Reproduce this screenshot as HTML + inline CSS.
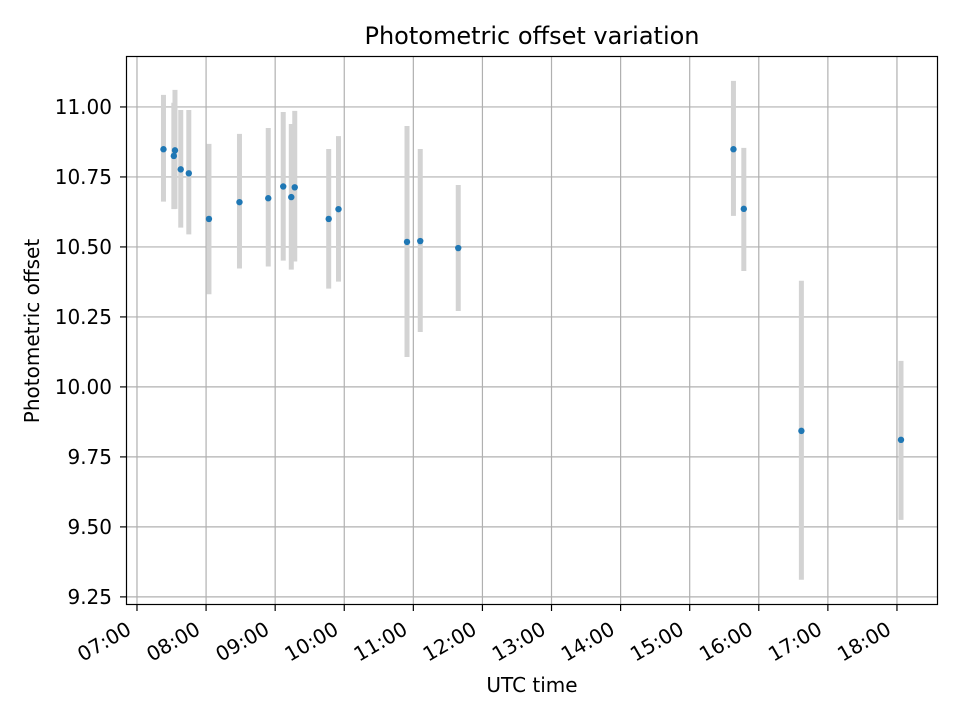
<!DOCTYPE html>
<html><head><meta charset="utf-8"><style>body{margin:0;background:#fff}svg text{font-family:"DejaVu Sans","Liberation Sans",sans-serif;fill:#000}</style></head>
<body>
<svg id="chart" width="960" height="720" xmlns="http://www.w3.org/2000/svg">
<g id="grid"></g>
<g id="bars"></g>
<g id="pts"></g>
<rect x="126.5" y="56.5" width="811" height="548" fill="none" stroke="#000" stroke-width="1.2"/>
<g id="xt"></g>
<g id="yt"></g>
<text x="532" y="44" font-size="24" text-anchor="middle">Photometric offset variation</text>
<text x="532" y="692" font-size="20" text-anchor="middle">UTC time</text>
<text transform="translate(39,331) rotate(-90)" font-size="20" text-anchor="middle">Photometric offset</text>
</svg>
<script>
const times=["07:23","07:33","07:32","07:38","07:45","08:02.5","08:29","08:54","09:07","09:14","09:17","09:46.5","09:55","10:54.5","11:06","11:39","15:38","15:47","16:37","18:03.5"];
const values=[10.849,10.845,10.825,10.777,10.763,10.60,10.660,10.674,10.716,10.678,10.713,10.60,10.635,10.518,10.521,10.496,10.849,10.636,9.843,9.811];
const upper=[11.043,11.061,11.015,10.989,10.989,10.868,10.904,10.925,10.982,10.939,10.986,10.850,10.896,10.932,10.850,10.721,11.093,10.854,10.379,10.093];
const lower=[10.662,10.636,10.635,10.569,10.545,10.331,10.423,10.430,10.451,10.419,10.448,10.351,10.376,10.107,10.196,10.271,10.611,10.414,9.311,9.525];
const xTicks=["07:00","08:00","09:00","10:00","11:00","12:00","13:00","14:00","15:00","16:00","17:00","18:00"];
const yTicks=[9.25,9.5,9.75,10.0,10.25,10.5,10.75,11.0];
const NS="http://www.w3.org/2000/svg";
function hrs(t){const p=t.split(":");return +p[0]+ +p[1]/60;}
const x0=6.841,x1=18.594,y0=9.221,y1=11.182;
function X(h){return 126+(h-x0)/(x1-x0)*812;}
function Y(v){return 605-(v-y0)/(y1-y0)*549;}
function mk(tag,attrs,parent){const e=document.createElementNS(NS,tag);for(const k in attrs)e.setAttribute(k,attrs[k]);document.getElementById(parent).appendChild(e);return e;}
xTicks.forEach(t=>{const x=X(hrs(t));
 const g=mk("line",{x1:x,x2:x,y1:56,y2:605,stroke:"#b0b0b0","stroke-width":1.2},"grid");
 
 
 const tk=mk("line",{x1:x,x2:x,y1:605,y2:611,stroke:"#000","stroke-width":1.2},"xt");
 
 
 const tx=mk("text",{transform:`translate(${x-12},${620}) rotate(-30)`,"font-size":"20","text-anchor":"end","dominant-baseline":"hanging"},"xt");
 
 
 tx.textContent=t;});
yTicks.forEach(v=>{const y=Y(v);
 const g=mk("line",{x1:126,x2:938,y1:y,y2:y,stroke:"#b0b0b0","stroke-width":1.2},"grid");
 
 
 const tk=mk("line",{x1:120,x2:126,y1:y,y2:y,stroke:"#000","stroke-width":1.2},"yt");
 
 
 const tx=mk("text",{x:112,y:y+7,"font-size":"20","text-anchor":"end"},"yt");
 
 
 tx.textContent=v.toFixed(2);});
times.forEach((t,i)=>{const x=X(hrs(t));
 const b=mk("line",{x1:x,x2:x,y1:Y(upper[i]),y2:Y(lower[i]),stroke:"#d3d3d3","stroke-width":5},"bars");
 
 
 const c=mk("circle",{cx:x,cy:Y(values[i]),r:3.2,fill:"#1f77b4"},"pts");
 
 });
</script>
</body></html>
